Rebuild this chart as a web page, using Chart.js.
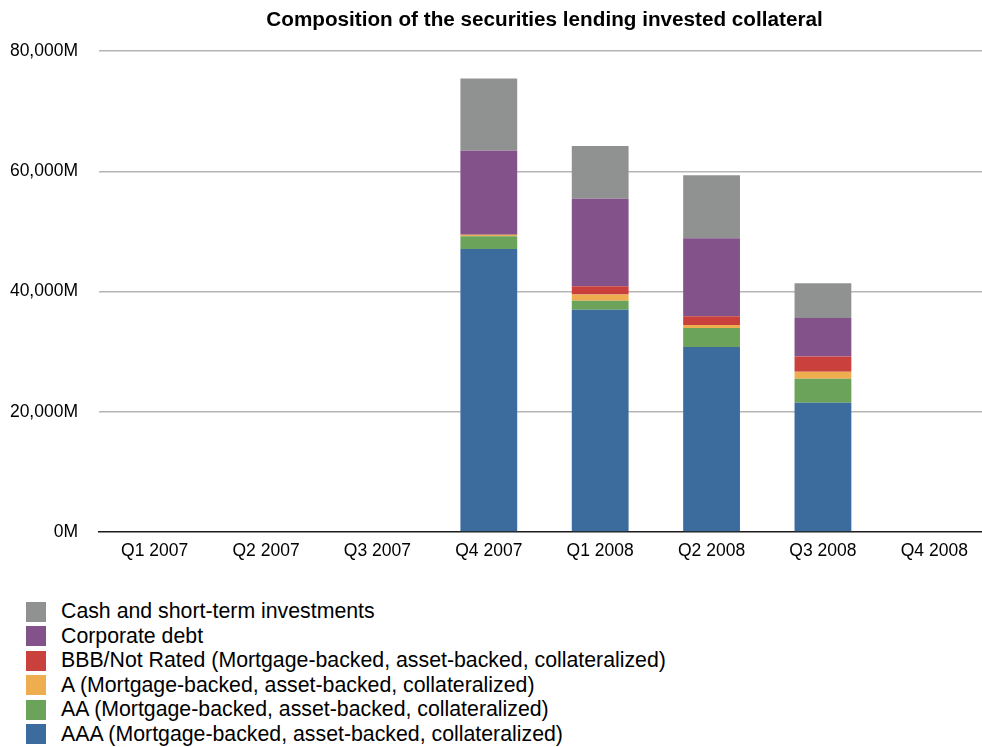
<!DOCTYPE html>
<html>
<head>
<meta charset="utf-8">
<script src="https://cdn.jsdelivr.net/npm/chart.js@4/dist/chart.umd.min.js"></script>
<style>
  html, body { margin: 0; padding: 0; background: #fff; }
  #wrap { position: relative; width: 982px; height: 747px; overflow: hidden; }
  #chart { position: absolute; left: 0; top: 0; }
  #legend {
    position: absolute; left: 26px; top: 599.5px; margin: 0; padding: 0; list-style: none;
    font-family: "Liberation Sans", Arial, Helvetica, sans-serif; font-size: 21.3px; color: #000;
  }
  #legend li { display: flex; align-items: center; height: 24.5px; white-space: nowrap; }
  #legend .sw { width: 20px; height: 20px; margin-right: 15px; flex: none; }
</style>
</head>
<body>
<div id="wrap">
  <canvas id="chart" width="1083" height="580"></canvas>
  <ul id="legend"></ul>
</div>
<script>
// Quarters shown on the category axis
const quarters = ['Q1 2007', 'Q2 2007', 'Q3 2007', 'Q4 2007', 'Q1 2008', 'Q2 2008', 'Q3 2008', 'Q4 2008'];

// Invested collateral by type, in millions (no data reported for empty quarters)
const aaa       = [null, null, null, 47100, 37000, 30800, 21500, null];
const aa        = [null, null, null,  2100,  1500,  3150,  4000, null];
const singleA   = [null, null, null,   250,  1000,   500,  1150, null];
const bbb       = [null, null, null,     0,  1400,  1450,  2550, null];
const corporate = [null, null, null, 14000, 14550, 13000,  6400, null];
const cash      = [null, null, null, 12000,  8800, 10450,  5800, null];

// Value-axis ticks
const yTicks = [0, 20000, 40000, 60000, 80000];

const FONT = '"Liberation Sans", Arial, Helvetica, sans-serif';

const series = [
  { label: 'AAA (Mortgage-backed, asset-backed, collateralized)', data: aaa, color: '#3c6c9d' },
  { label: 'AA (Mortgage-backed, asset-backed, collateralized)', data: aa, color: '#6ba35b' },
  { label: 'A (Mortgage-backed, asset-backed, collateralized)', data: singleA, color: '#eead4e' },
  { label: 'BBB/Not Rated (Mortgage-backed, asset-backed, collateralized)', data: bbb, color: '#c9403c' },
  { label: 'Corporate debt', data: corporate, color: '#83528a' },
  { label: 'Cash and short-term investments', data: cash, color: '#909291' }
];

const chart = new Chart(document.getElementById('chart'), {
  type: 'bar',
  data: {
    labels: quarters,
    datasets: series.map(s => ({
      label: s.label,
      data: s.data,
      backgroundColor: s.color,
      borderWidth: 0,
      categoryPercentage: 1,
      barPercentage: 0.51
    }))
  },
  options: {
    responsive: false,
    animation: false,
    layout: { padding: { left: 0, right: 93, top: 0, bottom: 0 } },
    plugins: {
      legend: { display: false },
      tooltip: { enabled: false },
      title: {
        display: true,
        fullSize: false,
        text: 'Composition of the securities lending invested collateral',
        color: '#000',
        font: { family: FONT, size: 20.7, weight: 'bold' },
        padding: { top: 7.7, bottom: 18.7 }
      }
    },
    scales: {
      x: {
        stacked: true,
        grid: { display: false, drawTicks: false },
        border: { display: true, color: '#1a1a1a', width: 1.5 },
        ticks: { color: '#000', font: { family: FONT, size: 17.5 }, padding: 8.5, maxRotation: 0, autoSkip: false },
        afterFit: s => { s.height = 48; }
      },
      y: {
        stacked: true,
        min: 0,
        max: 80000,
        afterBuildTicks: s => { s.ticks = yTicks.map(v => ({ value: v })); },
        grid: {
          drawTicks: false,
          lineWidth: 1.5,
          color: ctx => ctx.tick && ctx.tick.value === 0 ? 'rgba(0,0,0,0)' : '#b6b6b6'
        },
        border: { display: false },
        ticks: {
          color: '#000',
          font: { family: FONT, size: 17.5 },
          padding: 21,
          callback: v => v.toLocaleString('en-US') + 'M'
        },
        afterFit: s => { s.width = 99; }
      }
    }
  }
});

// Legend list, top entry is the top of the stack
const legendEl = document.getElementById('legend');
chart.data.datasets.slice().reverse().forEach(ds => {
  const li = document.createElement('li');
  const sw = document.createElement('span');
  sw.className = 'sw';
  sw.style.background = ds.backgroundColor;
  li.appendChild(sw);
  li.appendChild(document.createTextNode(ds.label));
  legendEl.appendChild(li);
});
</script>
</body>
</html>
